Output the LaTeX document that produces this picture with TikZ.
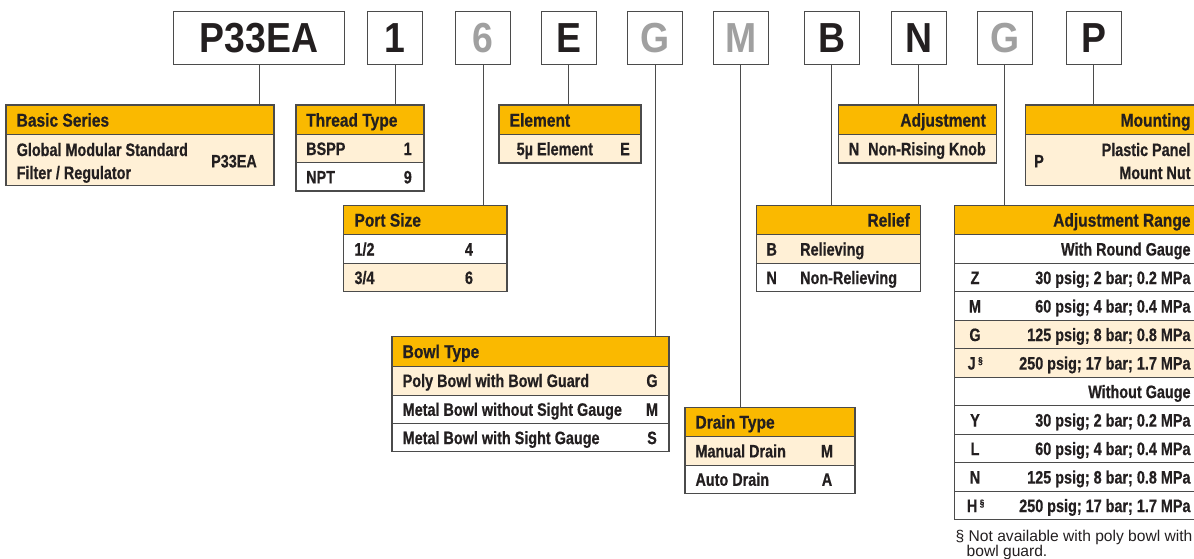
\documentclass[tikz,border=0pt]{standalone}
\usepackage{fontspec}
\setmainfont{Liberation Sans}
\newfontfamily\hdrfont[FakeStretch=0.84,BoldFeatures={FakeBold=0.6}]{Liberation Sans}
\newfontfamily\bodyfont[FakeStretch=0.80,BoldFeatures={FakeBold=0.6}]{Liberation Sans}
\newfontfamily\topfont[FakeStretch=0.89]{Liberation Sans}
\newfontfamily\notefont{Liberation Sans}
\definecolor{hdrc}{RGB}{250,185,0}
\definecolor{lightc}{RGB}{255,240,214}
\definecolor{linec}{RGB}{75,75,75}
\definecolor{txtc}{RGB}{35,31,32}
\definecolor{grayc}{RGB}{160,160,160}
\newcommand{\sect}{{\fontsize{10}{10}\selectfont\raisebox{5.5pt}{§}}}
\begin{document}
\begin{tikzpicture}[x=1pt,y=-1pt,
  topbox/.style={draw=linec, line width=1.3pt, minimum height=53pt, minimum width=55pt, inner sep=0pt, anchor=north west,
    font=\topfont\bfseries\fontsize{42}{42}\selectfont, text=txtc},
  graytxt/.style={text=grayc},
  frame/.style={draw=linec, line width=1.1pt},
  sep/.style={draw=linec, line width=1pt},
  conn/.style={draw=linec, line width=1pt},
  hd/.style={font=\hdrfont\bfseries\fontsize{18.5}{20}\selectfont, text=txtc, inner sep=0pt},
  bd/.style={font=\bodyfont\bfseries\fontsize{18}{20}\selectfont, text=txtc, inner sep=0pt},
  nt/.style={font=\notefont\fontsize{15.6}{17}\selectfont, text=txtc, inner sep=0pt, anchor=base west}
]
\useasboundingbox (0,0) rectangle (1194,558);
\clip (0,0) rectangle (1194,558);
\fill[white] (0,0) rectangle (1194,558);

% ---------- top code boxes ----------
\node[topbox, minimum width=171pt] (kP33) at (173,11) {P33EA};
\node[topbox] (k1) at (367,11) {1};
\node[topbox, graytxt] (k6) at (455,11) {6};
\node[topbox] (kE) at (540.5,11) {E};
\node[topbox, graytxt] (kG) at (627,11) {G};
\node[topbox, graytxt] (kM) at (712.5,11) {M};
\node[topbox] (kB) at (803.5,11) {B};
\node[topbox] (kN) at (890.5,11) {N};
\node[topbox, graytxt] (kG2) at (976.5,11) {G};
\node[topbox] (kP) at (1065.5,11) {P};

% ---------- table top coordinates ----------
\coordinate (tBasic) at (140,105);
\coordinate (tThread) at (360,105);
\coordinate (tElement) at (570,105);
\coordinate (tPort) at (425,205.3);
\coordinate (tBowl) at (530,336.7);
\coordinate (tDrain) at (770,407.3);
\coordinate (tRelief) at (838,205.3);
\coordinate (tAdj) at (917,105);
\coordinate (tRange) at (1080,205.3);
\coordinate (tMount) at (1110,105);

% ---------- connectors ----------
\draw[conn] (kP33.south) -- (kP33.south |- tBasic);
\draw[conn] (k1.south) -- (k1.south |- tThread);
\draw[conn] (k6.south) -- (k6.south |- tPort);
\draw[conn] (kE.south) -- (kE.south |- tElement);
\draw[conn] (kG.south) -- (kG.south |- tBowl);
\draw[conn] (kM.south) -- (kM.south |- tDrain);
\draw[conn] (kB.south) -- (kB.south |- tRelief);
\draw[conn] (kN.south) -- (kN.south |- tAdj);
\draw[conn] (kG2.south) -- (kG2.south |- tRange);
\draw[conn] (kP.south) -- (kP.south |- tMount);

% ---------- Basic Series ----------
\fill[hdrc] (6,105) rectangle (274,134.3);
\fill[lightc] (6,134.3) rectangle (274,185.7);
\draw[sep] (6,134.3) -- (274,134.3);
\draw[frame] (6,105) rectangle (274,185.7);
\node[hd, anchor=base west] (hBasic) at (16.5,126.6) {Basic Series};
\node[bd, anchor=base west] (bBasic1) at (16.5,156) {Global Modular Standard};
\node[bd, anchor=base west] (bBasic2) at (16.5,179) {Filter / Regulator};
\node[bd, anchor=base east] (vBasic) at (257,167.4) {P33EA};

% ---------- Thread Type ----------
\fill[hdrc] (296,105) rectangle (424,134.3);
\fill[lightc] (296,134.3) rectangle (424,162.5);
\draw[sep] (296,134.3) -- (424,134.3) (296,162.5) -- (424,162.5);
\draw[frame] (296,105) rectangle (424,191);
\node[hd, anchor=base west] (hThread) at (306,126.6) {Thread Type};
\node[bd, anchor=base west] (bThread1) at (306,155) {BSPP};
\node[bd, anchor=base east] (vThread1) at (412,155) {1};
\node[bd, anchor=base west] (bThread2) at (306,183.4) {NPT};
\node[bd, anchor=base east] (vThread2) at (412,183.4) {9};

% ---------- Element ----------
\fill[hdrc] (499,105) rectangle (641,134.3);
\fill[lightc] (499,134.3) rectangle (641,163);
\draw[sep] (499,134.3) -- (641,134.3);
\draw[frame] (499,105) rectangle (641,163);
\node[hd, anchor=base west] (hElement) at (509.5,126.6) {Element};
\node[bd, anchor=base west] (bElement) at (516.5,155.2) {5µ Element};
\node[bd, anchor=base east] (vElement) at (630,155.2) {E};

% ---------- Port Size ----------
\fill[hdrc] (343.5,205.3) rectangle (507,234.7);
\fill[lightc] (343.5,263) rectangle (507,291.7);
\draw[sep] (343.5,234.7) -- (507,234.7) (343.5,263) -- (507,263);
\draw[frame] (343.5,205.3) rectangle (507,291.7);
\node[hd, anchor=base west] (hPort) at (354.3,226.6) {Port Size};
\node[bd, anchor=base west] (bPort1) at (354.3,255.5) {1/2};
\node[bd, anchor=base] (vPort1) at (469,255.5) {4};
\node[bd, anchor=base west] (bPort2) at (354.3,284) {3/4};
\node[bd, anchor=base] (vPort2) at (469,284) {6};

% ---------- Bowl Type ----------
\fill[hdrc] (392,336.7) rectangle (669,366);
\fill[lightc] (392,366) rectangle (669,395);
\draw[sep] (392,366) -- (669,366) (392,395) -- (669,395) (392,423.3) -- (669,423.3);
\draw[frame] (392,336.7) rectangle (669,451.7);
\node[hd, anchor=base west] (hBowl) at (402.5,358) {Bowl Type};
\node[bd, anchor=base west] (bBowl1) at (402.5,387) {Poly Bowl with Bowl Guard};
\node[bd, anchor=base] (vBowl1) at (652,387) {G};
\node[bd, anchor=base west] (bBowl2) at (402.5,415.8) {Metal Bowl without Sight Gauge};
\node[bd, anchor=base] (vBowl2) at (652,415.8) {M};
\node[bd, anchor=base west] (bBowl3) at (402.5,444.1) {Metal Bowl with Sight Gauge};
\node[bd, anchor=base] (vBowl3) at (652,444.1) {S};

% ---------- Drain Type ----------
\fill[hdrc] (685,407.3) rectangle (855,436.7);
\fill[lightc] (685,436.7) rectangle (855,465);
\draw[sep] (685,436.7) -- (855,436.7) (685,465) -- (855,465);
\draw[frame] (685,407.3) rectangle (855,493.3);
\node[hd, anchor=base west] (hDrain) at (695.3,428.6) {Drain Type};
\node[bd, anchor=base west] (bDrain1) at (695.3,457.4) {Manual Drain};
\node[bd, anchor=base] (vDrain1) at (827,457.4) {M};
\node[bd, anchor=base west] (bDrain2) at (695.3,485.8) {Auto Drain};
\node[bd, anchor=base] (vDrain2) at (827,485.8) {A};

% ---------- Relief ----------
\fill[hdrc] (756.3,205.3) rectangle (920.7,234.7);
\fill[lightc] (756.3,234.7) rectangle (920.7,263);
\draw[sep] (756.3,234.7) -- (920.7,234.7) (756.3,263) -- (920.7,263);
\draw[frame] (756.3,205.3) rectangle (920.7,291.7);
\node[hd, anchor=base east] (hRelief) at (910,226.6) {Relief};
\node[bd, anchor=base] (cRelief1) at (771.7,255.5) {B};
\node[bd, anchor=base west] (bRelief1) at (800,255.5) {Relieving};
\node[bd, anchor=base] (cRelief2) at (771.7,284) {N};
\node[bd, anchor=base west] (bRelief2) at (800,284) {Non-Relieving};

% ---------- Adjustment ----------
\fill[hdrc] (838.3,105) rectangle (996.3,134.3);
\fill[lightc] (838.3,134.3) rectangle (996.3,163);
\draw[sep] (838.3,134.3) -- (996.3,134.3);
\draw[frame] (838.3,105) rectangle (996.3,163);
\node[hd, anchor=base east] (hAdj) at (986,126.6) {Adjustment};
\node[bd, anchor=base] (cAdj) at (854,155.2) {N};
\node[bd, anchor=base east] (bAdj) at (986,155.2) {Non-Rising Knob};

% ---------- Mounting ----------
\fill[hdrc] (1025.3,105) rectangle (1202,134.3);
\fill[lightc] (1025.3,134.3) rectangle (1202,185.7);
\draw[sep] (1025.3,134.3) -- (1202,134.3);
\draw[frame] (1025.3,105) rectangle (1202,185.7);
\node[hd, anchor=base east] (hMount) at (1190.7,126.6) {Mounting};
\node[bd, anchor=base] (cMount) at (1039,167.4) {P};
\node[bd, anchor=base east] (bMount1) at (1190.7,156) {Plastic Panel};
\node[bd, anchor=base east] (bMount2) at (1190.7,179) {Mount Nut};

% ---------- Adjustment Range ----------
\fill[hdrc] (954.7,205.3) rectangle (1202,234.7);
\fill[lightc] (954.7,320.2) rectangle (1202,377.2);
\draw[sep] (954.7,234.7) -- (1202,234.7)
  (954.7,263.2) -- (1202,263.2) (954.7,291.7) -- (1202,291.7)
  (954.7,320.2) -- (1202,320.2) (954.7,348.7) -- (1202,348.7)
  (954.7,377.2) -- (1202,377.2) (954.7,405.7) -- (1202,405.7)
  (954.7,434.2) -- (1202,434.2) (954.7,462.7) -- (1202,462.7)
  (954.7,491.2) -- (1202,491.2);
\draw[frame] (954.7,205.3) rectangle (1202,519.7);
\node[hd, anchor=base east] (hRange) at (1190.7,226.6) {Adjustment Range};
\node[bd, anchor=base east] (sRange1) at (1190.7,255.55) {With Round Gauge};
\node[bd, anchor=base] (cZ) at (975,284.05) {Z};
\node[bd, anchor=base east] (vZ) at (1190.7,284.05) {30 psig; 2 bar; 0.2 MPa};
\node[bd, anchor=base] (cM) at (975,312.55) {M};
\node[bd, anchor=base east] (vM) at (1190.7,312.55) {60 psig; 4 bar; 0.4 MPa};
\node[bd, anchor=base] (cG) at (975,341.05) {G};
\node[bd, anchor=base east] (vG) at (1190.7,341.05) {125 psig; 8 bar; 0.8 MPa};
\node[bd, anchor=base west] (cJ) at (967.5,369.55) {J\hspace{2.5pt}\sect};
\node[bd, anchor=base east] (vJ) at (1190.7,369.55) {250 psig; 17 bar; 1.7 MPa};
\node[bd, anchor=base east] (sRange2) at (1190.7,398.05) {Without Gauge};
\node[bd, anchor=base] (cY) at (975,426.55) {Y};
\node[bd, anchor=base east] (vY) at (1190.7,426.55) {30 psig; 2 bar; 0.2 MPa};
\node[bd, anchor=base] (cL) at (975,455.05) {L};
\node[bd, anchor=base east] (vL) at (1190.7,455.05) {60 psig; 4 bar; 0.4 MPa};
\node[bd, anchor=base] (cN) at (975,483.55) {N};
\node[bd, anchor=base east] (vN) at (1190.7,483.55) {125 psig; 8 bar; 0.8 MPa};
\node[bd, anchor=base west] (cH) at (966.7,512.05) {H\hspace{2.5pt}\sect};
\node[bd, anchor=base east] (vH) at (1190.7,512.05) {250 psig; 17 bar; 1.7 MPa};

% ---------- footnote ----------
\node[nt] (note1) at (955.5,541.5) {§ Not available with poly bowl with};
\node[nt] (note2) at (966.5,556) {bowl guard.};
\end{tikzpicture}
\end{document}
